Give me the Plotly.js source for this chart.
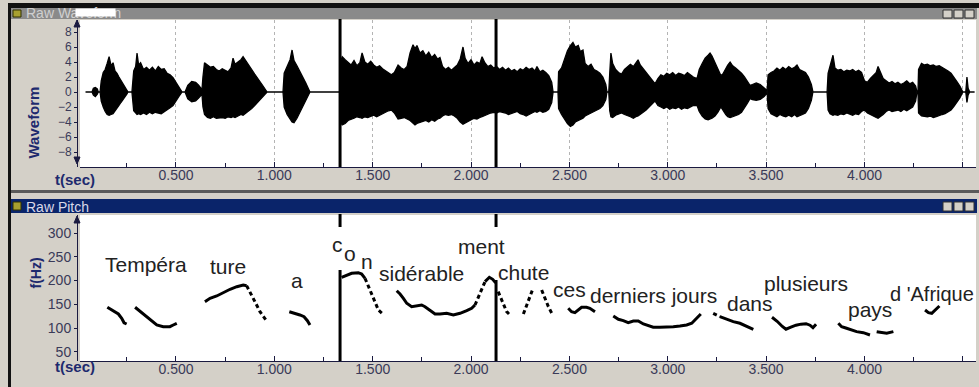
<!DOCTYPE html>
<html><head><meta charset="utf-8">
<script src="https://cdn.plot.ly/plotly-3.0.1.min.js"></script>
<style>html,body{margin:0;padding:0;background:#d4d0c8;overflow:hidden}</style>
</head><body><div id="chart" style="width:979px;height:387px"></div>
<script>
// ---------- Waveform envelope (time s, upper, lower) ----------
const wfT = [0.04,
 0.073,0.08,0.09,0.10,0.105,
 0.114,0.12,0.13,0.14,0.15,0.16,0.17,0.18,0.19,0.20,0.21,0.22,0.235,0.25,0.256,
 0.276,0.285,0.295,0.302,0.31,0.32,0.335,0.35,0.365,0.38,0.395,0.41,0.425,0.44,0.455,0.47,0.485,0.50,0.515,0.531,
 0.546,0.56,0.58,0.60,0.615,0.632,
 0.637,0.645,0.66,0.675,0.69,0.705,0.72,0.735,0.75,0.765,0.78,0.79,0.80,0.815,0.83,0.841,0.855,0.87,0.885,0.90,0.92,0.94,0.963,
 1.044,1.05,1.065,1.08,1.09,1.10,1.115,1.13,1.145,1.16,1.181,
 1.334,1.336,1.345,1.36,1.375,1.39,1.405,1.42,1.435,1.446,1.46,1.475,1.49,1.505,1.52,1.535,1.55,1.565,1.58,1.595,1.61,1.629,1.645,1.66,1.675,1.69,1.705,1.715,1.725,1.74,1.755,1.77,1.785,1.80,1.815,1.83,1.842,1.855,1.87,1.885,1.90,1.915,1.93,1.945,1.959,1.97,1.985,2.00,2.015,2.03,2.045,2.056,2.07,2.085,2.10,2.115,2.13,2.145,2.16,2.175,2.19,2.205,2.22,2.235,2.25,2.265,2.28,2.295,2.31,2.325,2.335,2.35,2.365,2.38,2.395,2.41,2.417,
 2.442,2.445,2.46,2.475,2.49,2.505,2.518,2.53,2.545,2.555,2.569,2.58,2.595,2.61,2.625,2.64,2.655,2.67,2.685,2.691,
 2.70,2.705,2.711,2.72,2.735,2.75,2.765,2.78,2.795,2.81,2.825,2.838,2.849,2.86,2.875,2.89,2.905,2.92,2.935,
 2.95,2.965,2.98,2.995,3.01,3.025,3.04,3.055,3.07,3.085,3.10,3.115,3.13,3.149,
 3.16,3.175,3.19,3.205,3.215,3.225,3.24,3.255,3.27,
 3.28,3.295,3.305,3.317,3.33,3.345,3.36,3.375,3.39,3.405,3.418,
 3.43,3.45,3.47,3.49,3.50,
 3.505,3.51,3.525,3.54,3.555,3.57,3.585,3.60,3.615,3.63,3.645,3.657,3.67,3.685,3.70,3.715,3.73,3.738,
 3.81,3.815,3.825,3.84,3.85,3.865,3.88,3.895,3.91,3.925,3.94,3.955,3.97,3.985,
 4.00,4.015,4.03,4.045,4.06,4.069,4.08,4.095,4.11,4.125,4.14,4.155,4.17,4.185,4.20,4.215,4.23,4.245,4.26,4.267,
 4.272,4.275,4.29,4.305,4.32,4.335,4.35,4.365,4.38,4.395,4.41,4.425,4.44,4.455,4.47,4.485,4.50,
 4.515,4.521,4.527,4.535,
 4.56];
const wfHi = [0,
 0,0.5,0.6,0.4,0,
 0,1.5,2.6,3.0,3.8,4.7,3.5,3.9,2.8,2.5,2.0,1.6,1.0,0.4,0,
 0,2.8,3.4,5.2,3.6,3.9,3.0,3.3,2.9,3.3,2.8,3.4,3.0,3.1,2.5,2.3,1.9,1.3,0.7,0,
 0,0.9,1.4,1.3,0.9,0.3,
 2.0,3.9,3.6,3.3,3.4,3.0,2.8,3.1,2.9,2.7,3.2,4.5,3.7,4.0,4.3,4.7,4.1,3.6,3.0,2.4,1.7,0.9,0,
 0,2.5,3.5,4.3,5.6,4.2,3.5,2.8,2.0,1.2,0,
 0,4.0,4.7,4.3,3.9,3.6,4.2,3.5,3.9,5.2,4.0,3.7,4.1,3.6,3.3,3.5,3.1,2.8,2.5,2.3,2.6,3.6,3.2,3.0,3.4,5.2,6.3,5.8,6.2,5.2,5.5,4.8,5.3,4.6,5.0,4.4,4.6,3.4,3.0,3.3,2.9,3.2,3.6,4.4,6.0,4.5,3.8,4.3,3.6,4.0,3.8,4.7,3.9,3.4,3.6,3.2,3.4,3.0,3.3,2.9,3.2,2.8,3.0,2.7,3.1,2.9,3.3,3.0,3.2,2.8,3.4,2.7,2.9,2.6,2.2,1.3,0,
 0,2.7,3.2,4.5,5.5,6.2,6.6,6.0,6.2,5.4,5.6,3.8,3.4,3.7,3.0,2.8,2.5,2.0,1.0,0,
 0,2.5,5.2,3.8,3.0,2.6,2.4,3.0,3.3,3.7,3.4,3.9,4.3,3.6,3.1,2.7,2.2,1.6,1.1,
 1.8,2.3,2.1,2.5,2.3,2.6,2.2,2.5,2.4,2.2,2.6,2.3,2.0,1.8,
 3.0,3.8,4.5,4.9,5.2,4.8,4.0,3.2,2.2,
 2.4,3.2,3.6,4.0,3.5,3.2,2.9,2.5,2.0,1.4,0.9,
 1.0,1.2,1.0,0.6,0.3,
 0,2.3,2.6,2.8,3.2,2.9,3.3,3.0,3.4,3.1,3.3,3.6,3.0,2.8,2.6,2.0,1.0,0,
 0,2.5,3.5,4.9,3.2,2.9,3.0,2.7,2.9,2.8,3.0,2.7,2.9,2.6,
 1.5,1.3,1.8,2.2,2.6,3.4,2.6,1.8,1.5,1.2,1.4,1.1,1.3,1.0,1.2,1.5,1.1,1.3,0.8,0,
 0,3.0,3.8,3.6,3.7,3.5,3.6,3.4,3.5,3.3,3.1,2.8,2.5,2.0,1.4,0.8,0,
 0,2.0,0.5,0,
 0];
const wfLo = [0,
 0,-0.4,-0.6,-0.3,0,
 0,-1.2,-2.0,-2.6,-3.0,-3.1,-3.0,-2.9,-2.6,-2.2,-1.8,-1.4,-0.8,-0.3,0,
 0,-2.5,-2.8,-3.0,-2.9,-3.0,-2.8,-3.0,-2.7,-2.9,-2.7,-2.8,-2.9,-2.6,-2.4,-2.1,-1.8,-1.2,-0.6,0,
 0,-0.9,-1.3,-1.2,-0.8,-0.3,
 -2.0,-3.0,-3.4,-3.5,-3.3,-3.5,-3.4,-3.4,-3.5,-3.3,-3.4,-3.3,-3.4,-3.2,-3.0,-3.1,-2.8,-2.5,-2.2,-1.8,-1.2,-0.7,0,
 0,-2.0,-3.0,-3.6,-4.0,-4.1,-3.5,-2.7,-2.0,-1.2,0,
 0,-4.0,-4.4,-4.2,-3.8,-3.6,-3.5,-3.3,-3.4,-3.5,-3.3,-3.4,-3.2,-3.1,-3.3,-3.0,-2.9,-2.7,-2.5,-2.4,-2.8,-3.6,-3.5,-3.4,-3.6,-3.8,-4.1,-4.4,-4.2,-4.0,-3.9,-3.8,-4.0,-3.7,-3.9,-3.6,-3.5,-3.2,-3.0,-3.1,-3.0,-3.2,-3.5,-4.0,-4.3,-4.2,-3.9,-3.7,-3.5,-3.6,-3.4,-3.3,-3.1,-3.0,-2.8,-2.7,-2.8,-2.6,-2.7,-2.8,-3.0,-2.9,-2.7,-2.6,-2.9,-3.0,-3.2,-3.0,-2.8,-2.6,-2.7,-2.5,-2.7,-2.6,-2.3,-1.4,0,
 0,-2.2,-3.0,-3.6,-4.2,-4.6,-4.4,-4.0,-3.8,-3.7,-3.5,-3.2,-3.0,-2.8,-2.6,-2.4,-2.2,-1.8,-1.0,0,
 0,-2.5,-3.3,-3.4,-3.1,-2.9,-2.8,-3.0,-3.2,-3.3,-3.5,-3.3,-3.2,-3.0,-2.7,-2.4,-2.1,-1.6,-1.2,
 -1.8,-2.0,-2.2,-2.0,-2.3,-2.1,-2.2,-2.0,-2.3,-2.1,-2.2,-2.0,-1.8,-1.8,
 -2.6,-3.2,-3.6,-3.7,-3.6,-3.5,-3.2,-2.7,-2.0,
 -2.3,-3.0,-3.3,-3.4,-3.3,-3.1,-3.0,-2.7,-2.2,-1.5,-0.9,
 -1.0,-1.1,-1.0,-0.6,-0.3,
 0,-2.2,-2.9,-3.1,-3.3,-3.0,-3.2,-3.3,-3.1,-3.3,-3.0,-3.3,-3.2,-3.0,-2.8,-2.2,-1.1,0,
 0,-2.4,-2.9,-3.1,-3.0,-3.1,-2.9,-3.0,-2.8,-3.0,-3.1,-2.9,-3.0,-2.6,
 -2.4,-2.8,-3.0,-3.2,-3.4,-3.5,-3.3,-3.0,-2.6,-2.4,-2.6,-2.5,-2.4,-2.6,-2.3,-2.5,-2.2,-2.0,-1.2,0,
 0,-2.8,-3.2,-3.3,-3.3,-3.2,-3.4,-3.3,-3.2,-3.0,-2.9,-2.7,-2.4,-1.9,-1.4,-0.8,0,
 0,-1.4,-0.4,0,
 0];

// ---------- Raw pitch (time s, Hz); null separates voiced stretches ----------
const pitchSolidT = [0.151,0.181,0.207,0.224,0.236,0.249,null,
 0.292,0.326,0.351,0.376,0.402,0.435,0.469,0.486,0.504,null,
 0.647,0.673,0.707,0.740,0.775,0.809,0.842,0.859,null,
 1.076,1.105,1.130,1.151,1.168,1.181,null,
 1.342,1.368,1.393,1.427,1.444,1.461,null,
 1.622,1.639,1.656,1.673,1.698,1.724,1.749,1.766,1.791,1.817,1.842,1.876,1.910,1.944,1.978,2.003,2.020,null,
 2.071,2.093,2.110,2.125,null,
 2.494,2.511,2.528,2.545,2.562,2.587,2.604,2.630,null,
 2.723,2.749,2.774,2.799,2.825,2.850,2.876,2.901,2.926,2.960,2.995,3.028,3.062,3.096,3.122,3.139,3.155,3.168,null,
 3.265,3.300,3.333,3.367,3.401,3.435,null,
 3.530,3.556,3.581,3.601,3.626,3.652,3.677,3.703,3.723,3.738,3.754,null,
 3.867,3.884,3.909,3.935,3.960,3.994,4.028,null,
 4.062,4.087,4.113,4.147,null,
 4.308,4.325,4.342,4.359,4.381];
const pitchSolidF = [143.7,136.5,129.6,120.5,111,108.5,null,
 143.7,132.3,125.4,115.5,106.4,102.8,102.8,106.4,110,null,
 155.5,162.6,167.5,174.4,181.6,187,190.6,189.2,null,
 134.4,131,127.5,123.9,115.5,106.4,null,
 206.8,211.7,215.3,216.5,213.8,204.7,null,
 178.6,171.7,162.6,152.1,145,146.4,148.5,145,136.5,129.6,129.6,131,127.5,131,136.5,141.6,148.5,null,
 197.6,206.8,202.6,195.5,null,
 141.6,134.4,132.3,138,143.7,143.7,141.6,134.4,null,
 125.4,118.4,115.5,111.3,114.8,114.8,108.5,104.3,101.6,101.6,101.6,102.8,104.3,106.4,110,117,125.4,129.6,null,
 123.9,118.4,113.4,110,104.3,97.4,null,
 122.7,114.3,103.8,97.5,101.7,106,108.2,109.2,106,100.8,108.2,null,
 110,102.8,99.5,95.9,92.4,90.2,85.4,null,
 92.4,90.2,88.9,92.4,null,
 138,132.3,131,138,146.4];
const pitchDotT = [0.859,0.876,0.893,0.910,0.927,0.944,0.961,null,
 1.461,1.478,1.495,1.512,1.529,1.551,null,
 2.020,2.037,2.054,2.071,null,
 2.138,2.156,2.167,2.181,2.193,null,
 2.266,2.283,2.300,2.312,null,
 2.359,2.376,2.393,2.415,null,
 3.231,3.265];
const pitchDotF = [189.2,176.5,162.6,148.5,134.4,123.9,114.8,null,
 204.7,187,169.6,152.1,138,129.6,null,
 148.5,166,183.7,197.6,null,
 176.5,159,145,134.4,129.6,null,
 129.6,148.5,169.6,180,null,
 180,162.6,145,127.5,null,
 131,123.9];

// ---------- Word labels of the utterance ----------
const words = ['Tempéra','ture','a','c','o','n','sidérable','ment','chute','ces','derniers jours','dans','plusieurs','pays',"d 'Afrique"];
const wordT = [0.345,0.762,1.114,1.321,1.385,1.471,1.748,2.051,2.267,2.498,2.930,3.420,3.705,4.026,4.120];
const wordF = [233.4,230.6,199.1,275.5,255.9,239.1,213.8,272.7,215.9,182.2,168.1,151.3,194.8,138,172.3];

// ---------- Axes ticks ----------
const timeTicks = [0.5,1.0,1.5,2.0,2.5,3.0,3.5,4.0,4.5];
const timeTickText = ['0.500','1.000','1.500','2.000','2.500','3.000','3.500','4.000',''];
const ampTicks = [-8,-6,-4,-2,0,2,4,6,8];
const hzTicks = [50,100,150,200,250,300];
const cursorT = [1.334, 2.127];

// ---------- Drawing ----------
const W = 979, H = 387;
const P = x => x / W, Q = y => 1 - y / H;
const LS = 'Liberation Sans, Arial, sans-serif';
const NARROW = 'Liberation Sans Narrow, Arial Narrow, Liberation Sans, Arial, sans-serif';
const NAVY = '#1e2a6e', AX = '#1a1a40', TXT = '#3a3a58';

const polyX = wfT.concat(wfT.slice().reverse());
const polyY = wfHi.concat(wfLo.slice().reverse());

const traces = [
  {x: polyX, y: polyY, type:'scatter', mode:'lines', fill:'toself', fillcolor:'#000',
   line:{color:'#000', width:1.3}, xaxis:'x', yaxis:'y', hoverinfo:'skip'},
  {x: pitchSolidT, y: pitchSolidF, type:'scatter', mode:'lines', line:{color:'#000', width:3},
   connectgaps:false, xaxis:'x2', yaxis:'y2', hoverinfo:'skip'},
  {x: pitchDotT, y: pitchDotF, type:'scatter', mode:'lines', line:{color:'#000', width:3, dash:'4px,3px'},
   connectgaps:false, xaxis:'x2', yaxis:'y2', hoverinfo:'skip'}
];

function rect(x0,y0,x1,y1,fill,lc,lw){
  return {type:'rect', xref:'paper', yref:'paper', x0:P(x0), x1:P(x1), y0:Q(y1), y1:Q(y0),
          fillcolor:fill, line:{color:lc||fill, width:lw||0}, layer:'below'};
}
function tri(pts){
  return {type:'path', xref:'paper', yref:'paper', layer:'above',
    path:'M'+pts.map(p=>P(p[0])+','+Q(p[1])).join(' L')+' Z', fillcolor:AX, line:{color:AX,width:1}};
}
const shapes = [
  rect(8,3,979,8,'#111'),
  rect(8,3,11,387,'#111'),
  rect(11,8,977,19,'#8a8a8a'),
  rect(11,190,979,193,'#5a5a5a'),
  rect(11,199,977,213,'#0a246a'),
  // title-bar icons
  rect(13,10,21,17,'#a8a030','#303000',1),
  rect(13,202,21,210,'#a8a030','#303000',1),
  // window buttons
  rect(943,10,952,18,'#d4d0c8','#303030',1), rect(954,10,963,18,'#d4d0c8','#303030',1), rect(965,10,974,18,'#d4d0c8','#303030',1),
  rect(943,202,952,211,'#d4d0c8','#303030',1), rect(954,202,963,211,'#d4d0c8','#303030',1), rect(965,202,974,211,'#d4d0c8','#303030',1),
  // axis arrows
  tri([[74,27],[77,20],[80,27]]),
  tri([[74,157],[77,164],[80,157]]),
  tri([[74,223],[77,216],[80,223]])
];
cursorT.forEach((t,i) => {
  shapes.push({type:'line', xref:'x', yref:'paper', x0:t, x1:t, y0:Q(167), y1:Q(19), line:{color:'#000', width:3}, layer:'above'});
  shapes.push({type:'line', xref:'x2', yref:'paper', x0:t, x1:t, y0:Q(227), y1:Q(214), line:{color:'#000', width:3}, layer:'above'});
  shapes.push({type:'line', xref:'x2', yref:'paper', x0:t, x1:t, y0:Q(361), y1:Q(i===0?270:280), line:{color:'#000', width:3}, layer:'above'});
});

const annotations = [
  {text:'Raw Waveform', x:P(24), y:Q(13.5), xref:'paper', yref:'paper', xanchor:'left', yanchor:'middle', showarrow:false,
   font:{family:LS, size:14, color:'#d0d0d0'}},
  {text:' ', x:P(95.5), y:Q(12.5), xref:'paper', yref:'paper', xanchor:'center', yanchor:'middle', showarrow:false,
   width:39, height:7, bgcolor:'#fff', borderpad:0, font:{size:6}},
  {text:'Raw Pitch', x:P(24), y:Q(206.5), xref:'paper', yref:'paper', xanchor:'left', yanchor:'middle', showarrow:false,
   font:{family:LS, size:14, color:'#d8d8e8'}},
  {text:'<b>Waveform</b>', x:P(22), y:Q(85), xref:'paper', yref:'paper', textangle:-90, showarrow:false,
   font:{family:LS, size:15, color:NAVY}},
  {text:'<b>f(Hz)</b>', x:P(25), y:Q(291), xref:'paper', yref:'paper', textangle:-90, showarrow:false,
   font:{family:LS, size:14, color:NAVY}},
  {text:'<b>t(sec)</b>', x:P(53), y:Q(179), xref:'paper', yref:'paper', showarrow:false,
   font:{family:LS, size:15, color:NAVY}},
  {text:'<b>t(sec)</b>', x:P(53), y:Q(377), xref:'paper', yref:'paper', showarrow:false,
   font:{family:LS, size:15, color:NAVY}}
];
words.forEach((w,i) => {
  const last = i === words.length - 1;
  annotations.push({text:w, x:wordT[i], y:wordF[i], xref:'x2', yref:'y2', showarrow:false,
    xanchor: last ? 'left' : 'center', yanchor:'middle',
    font:{family:LS, size: last ? 20 : 21, color:'#222'}});
});

const xCommon = {
  range:[0.012, 4.567], showline:true, linecolor:AX, linewidth:1, mirror:false,
  ticks:'inside', ticklen:5, tickcolor:AX, tickvals:timeTicks, ticktext:timeTickText,
  tickfont:{family:NARROW, size:14, color:TXT}, ticklabelstandoff:-5,
  minor:{tick0:0, dtick:0.25, ticks:'inside', ticklen:4, tickcolor:AX, showgrid:false},
  zeroline:false, fixedrange:true
};
const layout = {
  width:W, height:H, margin:{l:0,r:0,t:0,b:0},
  paper_bgcolor:'#d4d0c8', plot_bgcolor:'#ffffff', showlegend:false,
  xaxis: Object.assign({}, xCommon, {domain:[P(80),P(976)], anchor:'y',
    showgrid:true, gridcolor:'#b4b4b4', griddash:'dot', gridwidth:1}),
  yaxis: {domain:[Q(167),Q(20)], range:[-10.0,9.6], anchor:'free', position:P(77),
    showline:true, linecolor:AX, ticks:'outside', ticklen:3, tickcolor:AX, tickvals:ampTicks,
    tickfont:{family:NARROW, size:12, color:TXT}, showgrid:false, zeroline:false, fixedrange:true},
  xaxis2: Object.assign({}, xCommon, {domain:[P(80),P(976)], anchor:'y2', showgrid:false}),
  yaxis2: {domain:[Q(361),Q(215)], range:[30.6,338], anchor:'free', position:P(77),
    showline:true, linecolor:AX, ticks:'outside', ticklen:3, tickcolor:AX, tickvals:hzTicks,
    tickfont:{family:NARROW, size:14, color:TXT}, showgrid:false, zeroline:false, fixedrange:true},
  shapes: shapes, annotations: annotations
};
Plotly.newPlot('chart', traces, layout, {staticPlot:true, displayModeBar:false});
</script>
</body></html>
